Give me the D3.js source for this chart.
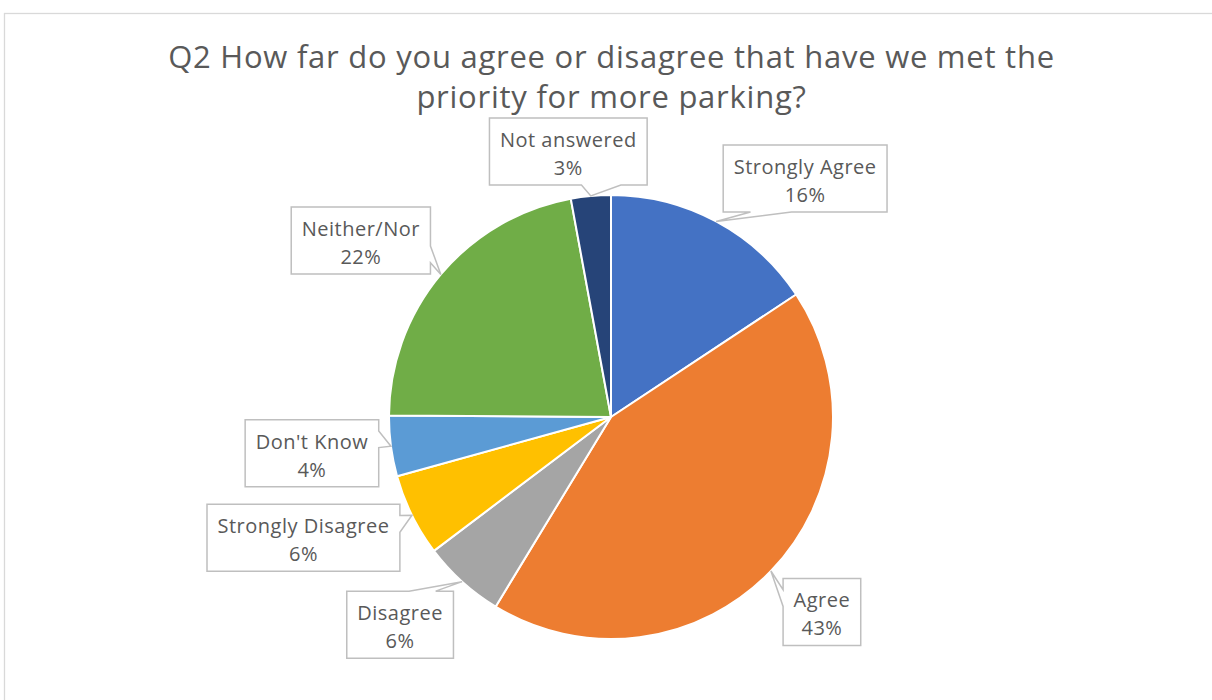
<!DOCTYPE html>
<html>
<head>
<meta charset="utf-8">
<script src="https://cdn.jsdelivr.net/npm/d3@7"></script>
<style>
  html, body { margin: 0; padding: 0; background: #ffffff; }
  svg { display: block; }
  text { font-family: "Open Sans", "Noto Sans", sans-serif; fill: #595959; }
</style>
</head>
<body>
<svg id="chart" width="1212" height="700"></svg>
<script>
// ---- data ----
const titleLines = ["Q2 How far do you agree or disagree that have we met the", "priority for more parking?"];
const categories = ["Strongly Agree", "Agree", "Disagree", "Strongly Disagree", "Don't Know", "Neither/Nor", "Not answered"];
const values = [15.7, 43.0, 6.0, 6.0, 4.4, 22.0, 2.9];
const colors = ["#4472C4", "#ED7D31", "#A5A5A5", "#FFC000", "#5B9BD5", "#70AD47", "#264478"];

// ---- layout (label box centre offsets from the arc point each callout points at) ----
const labelOffsets = [[89, -43], [51, 41], [-62, 43], [-108.5, 22.5], [-79, 7], [-80, -34], [-22.5, -44.5]];

const W = 1212, H = 700;
const cx = 611, cy = 417, R = 222;
const svg = d3.select("#chart");

// chart area border
svg.append("rect")
  .attr("x", 4.5).attr("y", 13.5).attr("width", 1230).attr("height", 720)
  .attr("fill", "#ffffff").attr("stroke", "#d9d9d9").attr("stroke-width", 1.3);

// title
svg.append("g").selectAll("text").data(titleLines).join("text")
  .attr("x", 611.5).attr("y", (d, i) => 68 + i * 40)
  .attr("text-anchor", "middle")
  .style("font-size", "31px")
  .style("letter-spacing", "0.75px")
  .text(d => d);

const total = d3.sum(values);
const pie = d3.pie().sort(null).value(d => d)(values);
const arc = d3.arc().innerRadius(0).outerRadius(R);

const g = svg.append("g").attr("transform", `translate(${cx},${cy})`);
g.selectAll("path").data(pie).join("path")
  .attr("d", arc)
  .attr("fill", (d, i) => colors[i])
  .attr("stroke", "#ffffff")
  .attr("stroke-width", 2)
  .attr("stroke-linejoin", "round");

function callout(l, t, w, h, px, py) {
  const hc = l + w / 2, vc = t + h / 2;
  const dxPos = px - hc, dyPos = py - vc;
  const r = l + w, b = t + h;
  const x1 = l + w * (dxPos > 0 ? 7 : 2) / 12, x2 = l + w * (dxPos > 0 ? 10 : 5) / 12;
  const y1 = t + h * (dyPos > 0 ? 7 : 2) / 12, y2 = t + h * (dyPos > 0 ? 10 : 5) / 12;
  const horiz = Math.abs(dxPos * h / w) > Math.abs(dyPos);
  let p = `M${l},${t}`;
  if (!horiz && dyPos < 0) p += `L${x1},${t}L${px},${py}L${x2},${t}`;
  p += `L${r},${t}`;
  if (horiz && dxPos > 0) p += `L${r},${y1}L${px},${py}L${r},${y2}`;
  p += `L${r},${b}`;
  if (!horiz && dyPos > 0) p += `L${x2},${b}L${px},${py}L${x1},${b}`;
  p += `L${l},${b}`;
  if (horiz && dxPos < 0) p += `L${l},${y2}L${px},${py}L${l},${y1}`;
  return p + "Z";
}

const labels = svg.append("g");
pie.forEach((d, i) => {
  const a = (d.startAngle + d.endAngle) / 2;
  const px = cx + R * Math.sin(a), py = cy - R * Math.cos(a);
  const bx = px + labelOffsets[i][0], by = py + labelOffsets[i][1];
  const pct = Math.round(values[i] / total * 100) + "%";
  const grp = labels.append("g");
  const path = grp.append("path");
  const t1 = grp.append("text").attr("x", bx).attr("y", by - 4.5).attr("text-anchor", "middle")
    .style("font-size", "20px").style("letter-spacing", "0.5px").text(categories[i]);
  const t2 = grp.append("text").attr("x", bx).attr("y", by + 23.5).attr("text-anchor", "middle")
    .style("font-size", "20px").style("letter-spacing", "0.5px").text(pct);
  const tw = Math.max(t1.node().getComputedTextLength(), t2.node().getComputedTextLength());
  const w = tw + 21, h = 67;
  path.attr("d", callout(bx - w / 2, by - h / 2, w, h, px, py))
    .attr("fill", "#ffffff").attr("stroke", "#bfbfbf").attr("stroke-width", 1.5)
    .attr("stroke-linejoin", "miter");
});
</script>
</body>
</html>
